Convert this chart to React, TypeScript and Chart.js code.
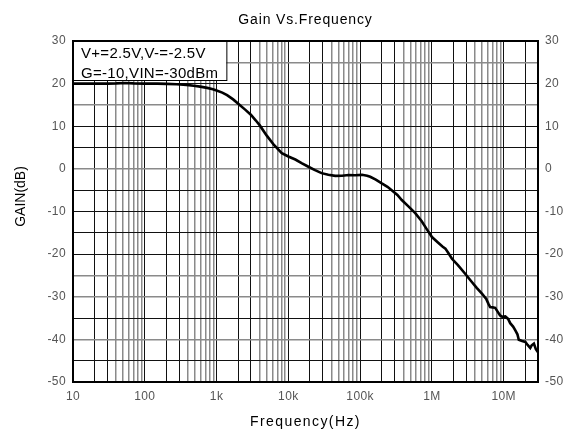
import React, { useEffect, useRef } from 'react';
import { Chart, registerables } from 'chart.js';

Chart.register(...registerables);

const chartTitle = 'Gain Vs.Frequency';
const xAxisTitle = 'Frequency(Hz)';
const yAxisTitle = 'GAIN(dB)';
const legendLines = ['V+=2.5V,V-=-2.5V', 'G=-10,VIN=-30dBm'];

const frequencyHz = [
  10, 15, 20, 30, 40, 53, 70, 100, 150, 200, 280, 380, 480, 590, 740, 890,
  1000, 1200, 1400, 1700, 2100, 2500, 3000, 3500, 4000, 5000, 6300, 8100,
  10000, 12500, 15500, 19000, 23500, 29000, 36000, 45000, 56000, 69000, 85000,
  106000, 125000, 138000, 165000, 200000, 240000, 275000, 330000, 380000,
  470000, 585000, 720000, 850000, 1000000, 1200000, 1400000, 1540000, 1700000,
  1900000, 2300000, 2900000, 3500000, 4200000, 5000000, 5700000, 6100000,
  6460000, 7000000, 7600000, 8300000, 8900000, 9600000, 10500000, 11500000,
  12300000, 13500000, 14500000, 15500000, 16200000, 18000000, 20000000,
  21500000, 23400000, 24500000, 26300000, 28000000, 30000000,
];

const gainDb = [
  20.0, 20.0, 20.0, 20.0, 20.05, 20.15, 20.05, 20.0, 20.0, 19.95, 19.85, 19.7,
  19.5, 19.3, 19.0, 18.7, 18.4, 17.9, 17.3, 16.3, 15.0, 13.9, 12.7, 11.4, 10.2,
  7.8, 5.6, 3.7, 2.9, 2.2, 1.3, 0.5, -0.3, -1.0, -1.4, -1.65, -1.6, -1.45, -1.5,
  -1.4, -1.6, -1.85, -2.5, -3.4, -4.2, -5.0, -6.1, -7.3, -8.8, -10.4, -12.3,
  -14.2, -16.0, -17.2, -18.2, -18.7, -19.8, -21.1, -22.6, -24.6, -26.3, -27.9,
  -29.3, -30.5, -31.6, -32.4, -32.5, -32.6, -33.6, -34.4, -34.7, -34.6, -35.2,
  -36.2, -37.0, -37.9, -38.8, -40.1, -40.4, -40.6, -41.3, -42.0, -41.4, -41.0,
  -42.3, -43.0,
];

const xMin = 10;
const xMax = 30000000;
const xDecades = [10, 100, 1000, 10000, 100000, 1000000, 10000000];
const xDecadeLabels = ['10', '100', '1k', '10k', '100k', '1M', '10M'];
const xMantissas = [1, 2, 3, 4, 5, 6, 7, 8, 9];
const xDarkMantissas = [1, 2, 3];

const yMin = -50;
const yMax = 30;
const yGridValues = [-50, -45, -40, -35, -30, -25, -20, -15, -10, -5, 0, 5, 10, 15, 20, 25, 30];
const yLabelValues = [-50, -40, -30, -20, -10, 0, 10, 20, 30];
const yGrayValues = [25, 15, 0, -25, -30, -40];

const FONT = '"Liberation Sans", Arial, sans-serif';

const xTickValues: number[] = [];
xDecades.forEach((d) => {
  xMantissas.forEach((m) => {
    const v = d * m;
    if (v >= xMin && v <= xMax) xTickValues.push(v);
  });
});

function mantissaOf(v: number) {
  const e = Math.floor(Math.log10(v) + 1e-9);
  return Math.round(v / Math.pow(10, e));
}

function xLabel(v: number) {
  const i = xDecades.indexOf(v);
  return i >= 0 ? xDecadeLabels[i] : '';
}

function yLabel(v: number) {
  return yLabelValues.indexOf(v) >= 0 ? String(v) : '';
}

const overlayPlugin = {
  id: 'overlay',
  beforeDraw(chart: any) {
    chart.ctx.letterSpacing = '0.4px';
  },
  afterDraw(chart: any) {
    const ctx = chart.ctx as CanvasRenderingContext2D;
    const ca = chart.chartArea;
    const cx = (ca.left + ca.right) / 2;
    ctx.save();
    ctx.fillStyle = '#000';
    ctx.textBaseline = 'alphabetic';

    // title
    ctx.textAlign = 'center';
    ctx.font = `14px ${FONT}`;
    (ctx as any).letterSpacing = '0.85px';
    ctx.fillText(chartTitle, cx, ca.top - 17.5);

    // x title
    ctx.font = `14px ${FONT}`;
    (ctx as any).letterSpacing = '1.4px';
    ctx.fillText(xAxisTitle, cx, ca.bottom + 44);

    // y title
    ctx.save();
    ctx.translate(ca.left - 48.5, (ca.top + ca.bottom) / 2 - 15);
    ctx.rotate(-Math.PI / 2);
    (ctx as any).letterSpacing = '0px';
    ctx.font = `14px ${FONT}`;
    ctx.textAlign = 'center';
    ctx.fillText(yAxisTitle, 0, 0);
    ctx.restore();

    // legend box
    ctx.font = `15px ${FONT}`;
    (ctx as any).letterSpacing = '0.3px';
    ctx.textAlign = 'left';
    const w = Math.max(...legendLines.map((t) => ctx.measureText(t).width)) + 16;
    const h = 39;
    ctx.fillStyle = '#fff';
    ctx.fillRect(ca.left, ca.top, w, h);
    ctx.strokeStyle = '#000';
    ctx.lineWidth = 1;
    ctx.strokeRect(ca.left + 0.5, ca.top + 0.5, w, h);
    ctx.fillStyle = '#000';
    legendLines.forEach((t, i) => {
      ctx.fillText(t, ca.left + 8, ca.top + 17 + i * 19.5);
    });
    ctx.restore();
    (ctx as any).letterSpacing = '0px';
  },
};

export default function App() {
  const canvasRef = useRef<HTMLCanvasElement | null>(null);

  useEffect(() => {
    document.body.style.margin = '0';
    const canvas = canvasRef.current;
    if (!canvas) return;
    const tickFont = { family: FONT, size: 12 };
    const chart = new Chart(canvas, {
      type: 'line',
      data: {
        datasets: [
          {
            data: frequencyHz.map((f, i) => ({ x: f, y: gainDb[i] })),
            borderColor: '#000',
            borderWidth: 2.6,
            pointRadius: 0,
            tension: 0,
            fill: false,
          },
        ],
      },
      options: {
        responsive: false,
        animation: false,
        devicePixelRatio: 1,
        layout: { padding: { top: 41, left: 0, right: 0, bottom: 0 } },
        plugins: {
          legend: { display: false },
          title: { display: false },
          tooltip: { enabled: false },
        },
        scales: {
          x: {
            type: 'logarithmic',
            min: xMin,
            max: xMax,
            afterBuildTicks: (s: any) => {
              s.ticks = xTickValues.map((v) => ({ value: v }));
            },
            afterFit: (s: any) => {
              s.height = 52;
            },
            ticks: {
              autoSkip: false,
              maxRotation: 0,
              minRotation: 0,
              padding: 7,
              color: '#555',
              font: tickFont,
              callback: (v: any) => xLabel(Number(v)),
            },
            grid: {
              drawTicks: false,
              color: (c: any) =>
                xDarkMantissas.indexOf(mantissaOf(c.tick.value)) >= 0 ? '#111' : '#8a8a8a',
              lineWidth: (c: any) =>
                xDarkMantissas.indexOf(mantissaOf(c.tick.value)) >= 0 ? 1 : 1.5,
            },
            border: { color: '#000', width: 2 },
          },
          y: {
            type: 'linear',
            position: 'left',
            min: yMin,
            max: yMax,
            afterBuildTicks: (s: any) => {
              s.ticks = yGridValues.map((v) => ({ value: v }));
            },
            afterFit: (s: any) => {
              s.width = 73;
            },
            ticks: {
              autoSkip: false,
              padding: 7,
              color: '#555',
              font: tickFont,
              callback: (v: any) => yLabel(Number(v)),
            },
            grid: {
              drawTicks: false,
              color: (c: any) =>
                c.tick.value === yMax ? '#000' : yGrayValues.indexOf(c.tick.value) >= 0 ? '#8a8a8a' : '#111',
              lineWidth: (c: any) =>
                c.tick.value === yMax ? 2 : yGrayValues.indexOf(c.tick.value) >= 0 ? 1.5 : 1,
            },
            border: { color: '#000', width: 2 },
          },
          y2: {
            type: 'linear',
            position: 'right',
            min: yMin,
            max: yMax,
            afterBuildTicks: (s: any) => {
              s.ticks = yGridValues.map((v) => ({ value: v }));
            },
            afterFit: (s: any) => {
              s.width = 26;
            },
            ticks: {
              autoSkip: false,
              padding: 7,
              color: '#555',
              font: tickFont,
              callback: (v: any) => yLabel(Number(v)),
            },
            grid: { display: false, drawTicks: false },
            border: { color: '#000', width: 2 },
          },
        },
      },
      plugins: [overlayPlugin],
    } as any);
    return () => chart.destroy();
  }, []);

  return (
    <div style={{ position: 'fixed', left: 0, top: 0, width: 564, height: 434, background: '#fff' }}>
      <canvas ref={canvasRef} width={564} height={434} />
    </div>
  );
}
